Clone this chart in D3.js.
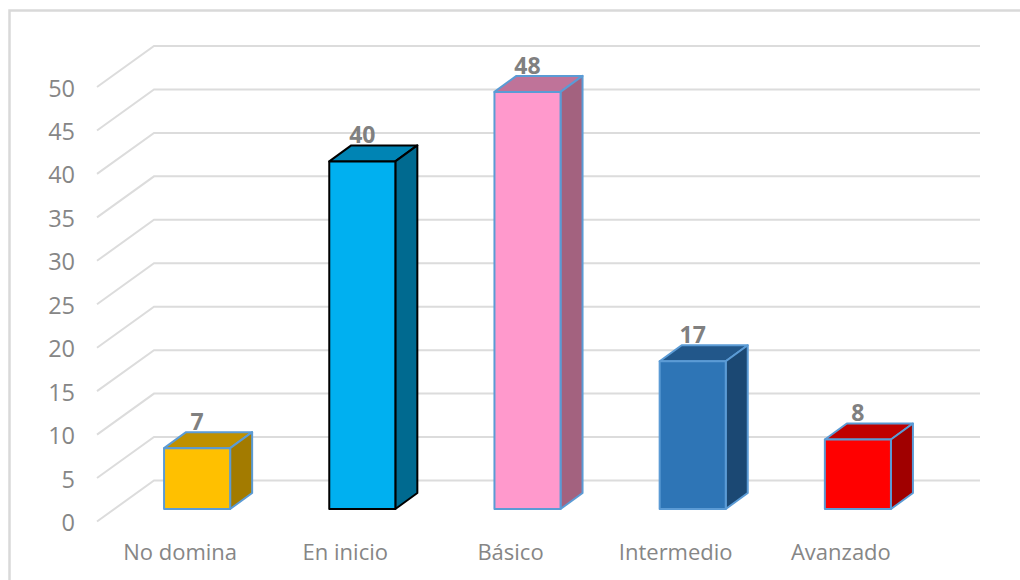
<!DOCTYPE html>
<html>
<head>
<meta charset="utf-8">
<script src="https://cdn.jsdelivr.net/npm/d3@7"></script>
<style>
  html, body { margin: 0; padding: 0; background: #fff; }
  text { font-family: "Open Sans", sans-serif; }
</style>
</head>
<body>
<div id="chart"></div>
<script>
var categories = ["No domina", "En inicio", "Básico", "Intermedio", "Avanzado"];
var values = [7, 40, 48, 17, 8];
var yTicks = [0, 5, 10, 15, 20, 25, 30, 35, 40, 45, 50];

// front, top and side colours of every bar, then its outline
var frontColors = ["#FFC000", "#00B0F0", "#FF99CC", "#2E75B6", "#FF0000"];
var topColors = ["#BF9000", "#0084B4", "#BF7399", "#22578A", "#BF0000"];
var sideColors = ["#A37B00", "#006A90", "#A3627F", "#1B4873", "#A00000"];
var strokeColors = ["#5B9BD5", "#000000", "#5B9BD5", "#5B9BD5", "#5B9BD5"];

var svgWidth = 1020;
var svgHeight = 580;

// depth of the floor and of the bars
var wallDx = 57, wallDy = 41;
var barDx = 22, barDy = 16;
var barLift = 12.5;

var svg = d3.select("#chart")
  .append("svg")
  .attr("width", svgWidth)
  .attr("height", svgHeight)
  .style("display", "block");

// chart frame, runs off the picture on the right and at the bottom
svg.append("path")
  .attr("d", "M9.5,580V10.5H1020")
  .attr("fill", "none")
  .attr("stroke", "#D9D9D9")
  .attr("stroke-width", 2.5);

var xScale = d3.scaleBand()
  .domain(categories)
  .range([115, 940])
  .paddingInner(0.6)
  .paddingOuter(0.297);

var yScale = d3.scaleLinear()
  .domain([0, 50])
  .range([521.5, 87]);

var gridLeft = 97;
var gridRight = 980;

// gridlines: short diagonal on the side wall, long run on the back wall
svg.append("g")
  .selectAll("path")
  .data(yTicks)
  .enter()
  .append("path")
  .attr("d", d => `M${gridLeft},${yScale(d)}L${gridLeft + wallDx},${yScale(d) - wallDy}H${gridRight}`)
  .attr("fill", "none")
  .attr("stroke", "#DCDCDC")
  .attr("stroke-width", 2);

// y axis
var leftAxis = d3.axisLeft(yScale)
  .tickValues(yTicks)
  .tickSize(0)
  .tickPadding(0);

var yAxis = svg.append("g")
  .attr("transform", "translate(75, 1.5)")
  .call(leftAxis);

yAxis.select(".domain").remove();
yAxis.selectAll("text")
  .attr("fill", "#868686")
  .style("font-family", "'Open Sans', sans-serif")
  .style("font-size", "23.5px");

// bars
var bars = svg.append("g")
  .selectAll("g")
  .data(values)
  .enter()
  .append("g")
  .attr("stroke-width", 2)
  .attr("stroke-linejoin", "round")
  .attr("stroke", (d, i) => strokeColors[i]);

function barLeft(i) { return xScale(categories[i]); }
function barRight(i) { return barLeft(i) + xScale.bandwidth(); }
function barTop(d) { return yScale(d) - barLift; }
function barBase() { return yScale(0) - barLift; }

// top face
bars.append("path")
  .attr("fill", (d, i) => topColors[i])
  .attr("d", (d, i) => `M${barLeft(i)},${barTop(d)}l${barDx},${-barDy}H${barRight(i) + barDx}l${-barDx},${barDy}Z`);

// side face
bars.append("path")
  .attr("fill", (d, i) => sideColors[i])
  .attr("d", (d, i) => `M${barRight(i)},${barTop(d)}l${barDx},${-barDy}V${barBase() - barDy}l${-barDx},${barDy}Z`);

// front face
bars.append("rect")
  .attr("fill", (d, i) => frontColors[i])
  .attr("x", (d, i) => barLeft(i))
  .attr("y", d => barTop(d))
  .attr("width", xScale.bandwidth())
  .attr("height", d => barBase() - barTop(d));

// data labels
svg.append("g")
  .selectAll("text")
  .data(values)
  .enter()
  .append("text")
  .attr("x", (d, i) => barLeft(i) + xScale.bandwidth() / 2)
  .attr("y", d => barTop(d) - 18)
  .attr("text-anchor", "middle")
  .attr("fill", "#808080")
  .style("font-family", "'Open Sans', sans-serif")
  .style("font-weight", "700")
  .style("font-size", "23px")
  .text(d => d);

// category labels sit left of their bars
svg.append("g")
  .selectAll("text")
  .data(categories)
  .enter()
  .append("text")
  .attr("x", d => xScale(d) + xScale.bandwidth() / 2 - 17)
  .attr("y", 560)
  .attr("text-anchor", "middle")
  .attr("fill", "#868686")
  .style("font-size", "22px")
  .text(d => d);
</script>
</body>
</html>
